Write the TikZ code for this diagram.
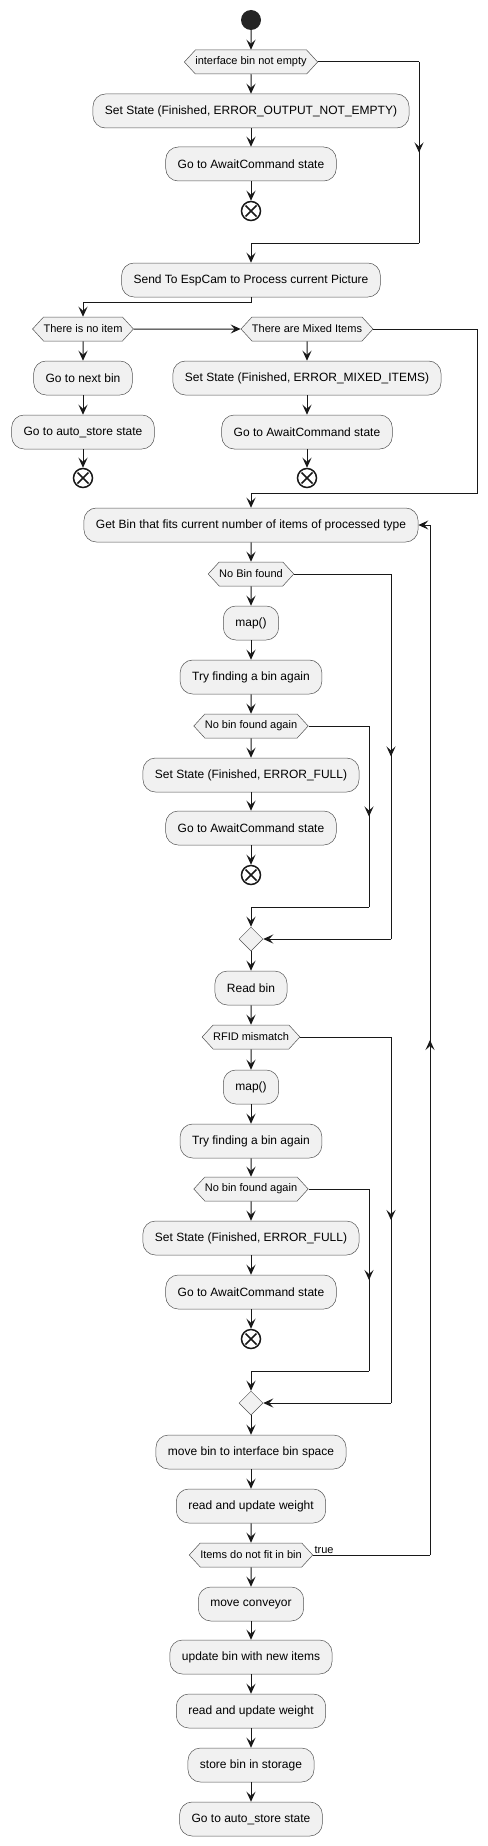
\documentclass[tikz,border=0pt]{standalone}
\usepackage{fontspec}
\setmainfont{Liberation Sans}
\usetikzlibrary{shapes.geometric, shapes.symbols, arrows.meta, decorations.markings}

\definecolor{boxfill}{HTML}{F1F1F1}
\definecolor{lineclr}{HTML}{181818}

\tikzset{
  act/.style={draw=lineclr!75, fill=boxfill, rounded corners=12.5pt, minimum height=34pt,
    inner xsep=12pt, line width=0.5pt, font=\fontsize{12}{14}\selectfont},
  cond/.style={signal, signal to=west and east, signal pointer angle=95, draw=lineclr!75,
    fill=boxfill, minimum height=24pt, inner xsep=0pt, inner ysep=0pt, line width=0.5pt,
    font=\fontsize{11}{13}\selectfont},
  merge/.style={diamond, draw=lineclr!75, fill=boxfill, minimum size=24pt, inner sep=0pt, line width=0.5pt},
  startdot/.style={circle, fill=lineclr!95, minimum size=20pt, inner sep=0pt},
  stopx/.style={circle, draw=lineclr, line width=1.5pt, minimum size=19pt, inner sep=0pt,
    path picture={\draw[lineclr, line width=1.5pt] (path picture bounding box.center)
      +(-5.5pt,-5.5pt) -- +(5.5pt,5.5pt) +(-5.5pt,5.5pt) -- +(5.5pt,-5.5pt);}},
  wire/.style={draw=lineclr, line width=1pt},
  flow/.style={wire, -{Stealth[length=10pt, width=9pt, inset=4pt]}},
  midarrow/.style={postaction={decorate}, decoration={markings,
    mark=at position 0.5 with {\arrow{Stealth[length=10pt, width=9pt, inset=4pt]}}}}
}

\begin{document}
\begin{tikzpicture}[x=1pt, y=-1pt]

\useasboundingbox (0,0) rectangle (487,1846);

% Start and first check
\node[startdot] (start) at (251,20) {};
\node[cond] (ifne) at (251,62) {interface bin not empty};
\node[act] (setne) at (251,111) {Set State (Finished, ERROR\_OUTPUT\_NOT\_EMPTY)};
\node[act] (gone) at (251,164) {Go to AwaitCommand state};
\node[stopx] (endne) at (251,211) {};
\node[act] (send) at (251,280) {Send To EspCam to Process current Picture};

% Item checks
\node[cond] (noitem) at (83,329) {There is no item};
\node[act] (nextbin) at (83,378) {Go to next bin};
\node[act] (autoa) at (83,432) {Go to auto\_store state};
\node[stopx] (endni) at (83,478) {};
\node[cond] (mixed) at (307,329) {There are Mixed Items};
\node[act] (setmix) at (307,378) {Set State (Finished, ERROR\_MIXED\_ITEMS)};
\node[act] (gomix) at (307,432) {Go to AwaitCommand state};
\node[stopx] (endmix) at (307,478) {};

% Find a bin
\node[act] (getbin) at (251,525) {Get Bin that fits current number of items of processed type};
\node[cond] (nobin) at (251,574) {No Bin found};
\node[act] (mapa) at (251,623) {map()};
\node[act] (trya) at (251,677) {Try finding a bin again};
\node[cond] (againa) at (251,726) {No bin found again};
\node[act] (fulla) at (251,775) {Set State (Finished, ERROR\_FULL)};
\node[act] (awaita) at (251,828) {Go to AwaitCommand state};
\node[stopx] (enda) at (251,875) {};
\node[merge] (mergea) at (251,939) {};

% Check the bin
\node[act] (readbin) at (251,988) {Read bin};
\node[cond] (rfid) at (251,1037) {RFID mismatch};
\node[act] (mapb) at (251,1087) {map()};
\node[act] (tryb) at (251,1141) {Try finding a bin again};
\node[cond] (againb) at (251,1189) {No bin found again};
\node[act] (fullb) at (251,1238) {Set State (Finished, ERROR\_FULL)};
\node[act] (awaitb) at (251,1292) {Go to AwaitCommand state};
\node[stopx] (endb) at (251,1339) {};
\node[merge] (mergeb) at (251,1403) {};

% Store items
\node[act] (movebin) at (251,1452) {move bin to interface bin space};
\node[act] (weighta) at (251,1506) {read and update weight};
\node[cond] (nofit) at (251,1555) {Items do not fit in bin};
\node[act] (conveyor) at (251,1604) {move conveyor};
\node[act] (update) at (251,1657) {update bin with new items};
\node[act] (weightb) at (251,1711) {read and update weight};
\node[act] (store) at (251,1765) {store bin in storage};
\node[act] (autob) at (251,1819) {Go to auto\_store state};

% Corners of the side branches
\coordinate (ra) at (419,62);
\coordinate (rb) at (419,243);
\coordinate (mx) at (477,493);
\coordinate (na) at (391,574);
\coordinate (nb) at (391,939);
\coordinate (ga) at (369,726);
\coordinate (gb) at (369,907);
\coordinate (fa) at (391,1037);
\coordinate (fb) at (391,1403);
\coordinate (ha) at (369,1189);
\coordinate (hb) at (369,1371);
\coordinate (la) at (430,1555);
\coordinate (lb) at (430,525);

% Straight arrows
\foreach \a/\b in {start/ifne, ifne/setne, setne/gone, gone/endne,
    noitem/nextbin, nextbin/autoa, autoa/endni, noitem/mixed,
    mixed/setmix, setmix/gomix, gomix/endmix,
    getbin/nobin, nobin/mapa, mapa/trya, trya/againa, againa/fulla, fulla/awaita, awaita/enda,
    mergea/readbin, readbin/rfid, rfid/mapb, mapb/tryb, tryb/againb, againb/fullb, fullb/awaitb, awaitb/endb,
    mergeb/movebin, movebin/weighta, weighta/nofit, nofit/conveyor, conveyor/update,
    update/weightb, weightb/store, store/autob} {
    \draw[flow] (\a) -- (\b);
}

% Side branches
\draw[wire] (ifne.east) -- (ra);
\draw[wire, midarrow] (ra) -- (rb);
\draw[flow] (rb) -| (send.north);

\draw[flow] (send.south) -- ++(0,5) -| (noitem.north);
\draw[flow] (mixed.east) -| (mx) -| (getbin.north);

\draw[wire] (nobin.east) -- (na);
\draw[wire, midarrow] (na) -- (nb);
\draw[flow] (nb) -- (mergea.east);
\draw[wire] (againa.east) -- (ga);
\draw[wire, midarrow] (ga) -- (gb);
\draw[flow] (gb) -| (mergea.north);

\draw[wire] (rfid.east) -- (fa);
\draw[wire, midarrow] (fa) -- (fb);
\draw[flow] (fb) -- (mergeb.east);
\draw[wire] (againb.east) -- (ha);
\draw[wire, midarrow] (ha) -- (hb);
\draw[flow] (hb) -| (mergeb.north);

% Loop back
\draw[wire] (nofit.east) -- (la) node[pos=0, anchor=south west, inner sep=1pt, font=\fontsize{11}{13}\selectfont] {true};
\draw[wire, midarrow] (la) -- (lb);
\draw[flow] (lb) -- (getbin.east);

\end{tikzpicture}
\end{document}
